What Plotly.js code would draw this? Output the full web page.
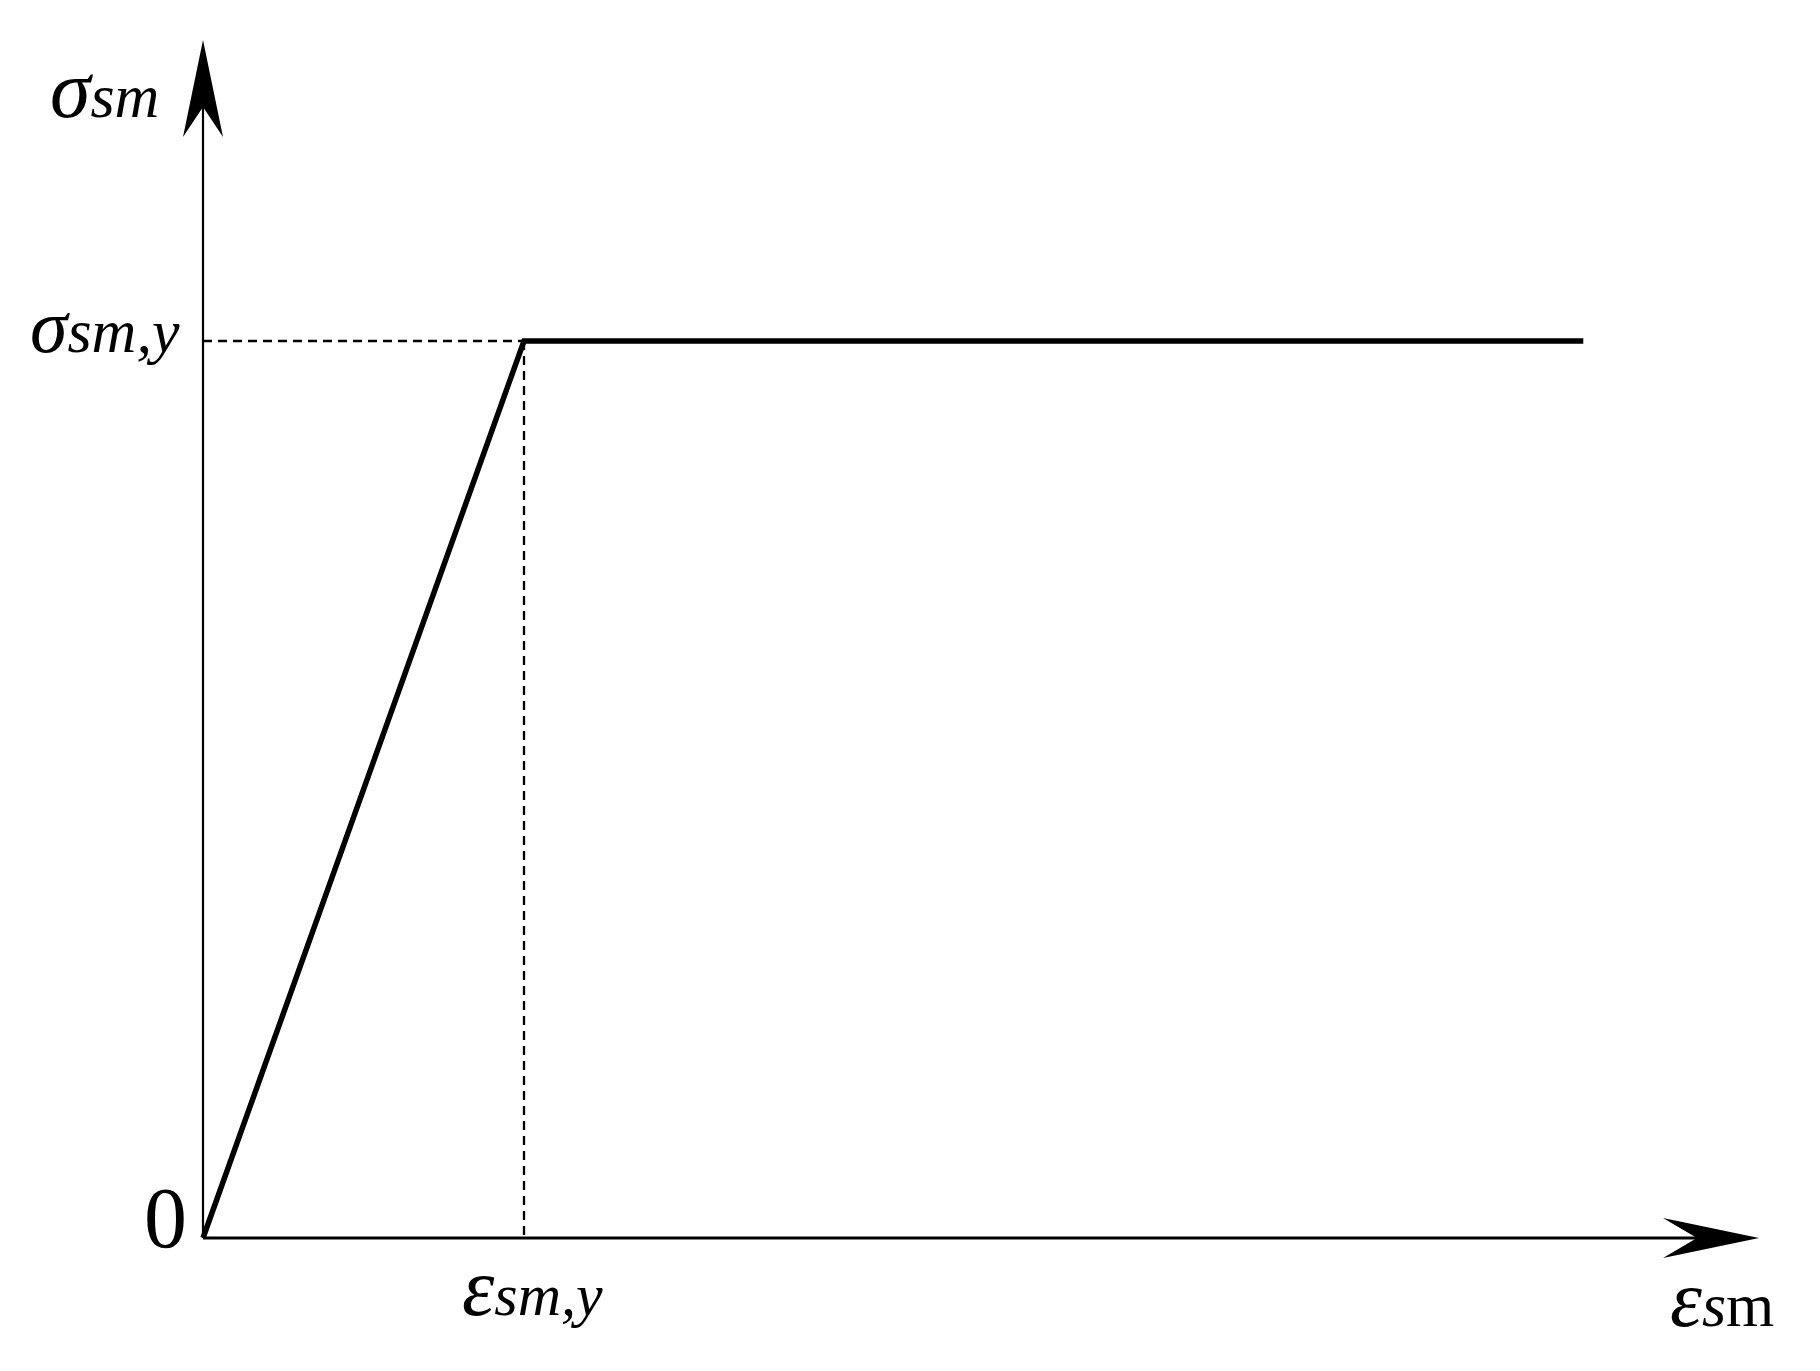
<!DOCTYPE html>
<html>
<head>
<meta charset="utf-8">
<script src="https://cdn.plot.ly/plotly-3.0.1.min.js"></script>
<style>
  html, body { margin: 0; padding: 0; background: #fff; }
  #plot { width: 1820px; height: 1371px; }
</style>
</head>
<body>
<div id="plot"></div>
<script>
// elastic - perfectly plastic model (normalised: yield point = 1, 1)
var strain = [0, 1.0, 4.3];
var stress = [0, 1.0, 1.0];
var yieldIdx = 1;

// axis labels
var yLabel = '<i>σ</i><i><span style="font-size:62px">sm</span></i>';
var yieldStressLabel = '<i>σ</i><i><span style="font-size:62px">sm,y</span></i>';
var yieldStrainLabel = '<i>ε</i><i><span style="font-size:60px">sm,y</span></i>';
var xLabel = '<i>ε</i><span style="font-size:62px"><i>s</i>m</span>';

// pixel frame of the picture (origin and scale of the axes)
var W = 1820, H = 1371;
var ox = 203, oy = 1238;     // origin in px
var sx = 321, sy = 897;      // px per unit
var xTip = (1759 - ox) / sx; // arrow tips
var yTip = (oy - 40) / sy;

function dx(px) { return px / sx; }
function dy(px) { return px / sy; }
function pX(px) { return px / W; }
function pY(py) { return 1 - py / H; }

var yx = strain[yieldIdx], yy = stress[yieldIdx];

var curve = {
    x: strain,
    y: stress,
    type: 'scatter',
    mode: 'lines',
    line: { color: '#000', width: 5.5 },
    hoverinfo: 'skip'
};

// dashed guides to the yield point
var guideH = {
    x: [0, yx], y: [yy, yy],
    type: 'scatter', mode: 'lines',
    line: { color: '#000', width: 2.3, dash: '9px,6px' },
    hoverinfo: 'skip'
};
var guideV = {
    x: [yx, yx], y: [yy, 0],
    type: 'scatter', mode: 'lines',
    line: { color: '#000', width: 2.3, dash: '9px,6px' },
    hoverinfo: 'skip'
};

var shapes = [
    // axes
    { type: 'line', xref: 'x', yref: 'y', x0: 0, y0: 0, x1: xTip - dx(60), y1: 0,
      line: { color: '#000', width: 2.8 } },
    { type: 'line', xref: 'x', yref: 'y', x0: 0, y0: 0, x1: 0, y1: yTip - dy(65),
      line: { color: '#000', width: 2.2 } },
    // arrow heads
    { type: 'path', xref: 'x', yref: 'y', fillcolor: '#000', line: { width: 0 },
      path: 'M' + xTip + ',0 L' + (xTip - dx(96)) + ',' + dy(20) +
            ' L' + (xTip - dx(62)) + ',0 L' + (xTip - dx(96)) + ',' + (-dy(20)) + ' Z' },
    { type: 'path', xref: 'x', yref: 'y', fillcolor: '#000', line: { width: 0 },
      path: 'M0,' + yTip + ' L' + dx(20) + ',' + (yTip - dy(97)) +
            ' L0,' + (yTip - dy(67)) + ' L' + (-dx(20)) + ',' + (yTip - dy(97)) + ' Z' }
];

var font = { family: '"Liberation Serif", "Times New Roman", serif', color: '#000' };

function label(text, left, cy, size) {
    return {
        xref: 'paper', yref: 'paper', x: pX(left), y: pY(cy),
        xanchor: 'left', yanchor: 'middle', showarrow: false,
        text: text, font: Object.assign({ size: size }, font)
    };
}

var annotations = [
    label(yLabel, 48, 89, 82),
    label(yieldStressLabel, 28, 326, 76),
    label('0', 142, 1218, 86),
    label(yieldStrainLabel, 460, 1287, 82),
    label(xLabel, 1668, 1299, 81)
];

var layout = {
    width: W, height: H,
    margin: { l: 0, r: 0, t: 0, b: 0 },
    paper_bgcolor: '#fff',
    plot_bgcolor: '#fff',
    showlegend: false,
    xaxis: { range: [-ox / sx, (W - ox) / sx], visible: false, fixedrange: true },
    yaxis: { range: [(oy - H) / sy, oy / sy], visible: false, fixedrange: true },
    shapes: shapes,
    annotations: annotations
};

Plotly.newPlot('plot', [curve, guideH, guideV], layout, { displayModeBar: false, staticPlot: true });
</script>
</body>
</html>
